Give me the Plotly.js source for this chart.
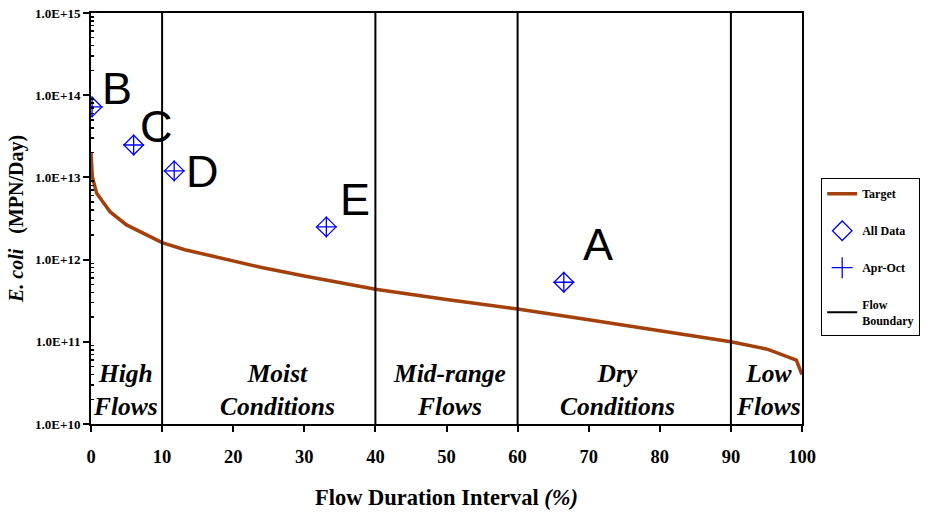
<!DOCTYPE html>
<html>
<head>
<meta charset="utf-8">
<script src="https://cdn.plot.ly/plotly-3.0.1.min.js"></script>
<style>html,body{margin:0;padding:0;background:#fff;}#chart{width:932px;height:517px;}</style>
</head>
<body>
<div id="chart"></div>
<script>
// Target load duration curve (flow duration interval %, E. coli MPN/Day)
const targetX = [0, 0.18, 0.8, 2.7, 5, 10, 13.2, 17.9, 24, 30, 35, 40, 50, 60, 70, 80, 90, 95.2, 99.2, 100];
const targetY = [2.0e13, 1.02e13, 6.4e12, 3.8e12, 2.64e12, 1.61e12, 1.32e12, 1.05e12, 8.0e11, 6.3e11, 5.25e11, 4.35e11, 3.27e11, 2.5e11, 1.85e11, 1.36e11, 1.0e11, 8.1e10, 6.0e10, 4.0e10];

// Sampled loads
const pointLabels = ["B", "C", "D", "E", "A"];
const pointX = [0.15, 6.0, 11.7, 33.1, 66.5];
const pointY = [7.2e13, 2.48e13, 1.2e13, 2.5e12, 5.3e11];

// Flow regime boundaries and zone names
const boundaries = [10, 40, 60, 90];
const zoneNames = ["High<br>Flows", "Moist<br>Conditions", "Mid-range<br>Flows", "Dry<br>Conditions", "Low<br>Flows"];
const zoneCenters = [4.8, 26.2, 50.4, 74, 95.3];

// Axis ticks
const yTickVals = [1e10, 1e11, 1e12, 1e13, 1e14, 1e15];
const yTickText = ["1.0E+10", "1.0E+11", "1.0E+12", "1.0E+13", "1.0E+14", "1.0E+15"];
const xTickVals = [0, 10, 20, 30, 40, 50, 60, 70, 80, 90, 100];
const minorMultipliers = [2, 3, 4, 5, 6, 7, 8, 9];

const yMinorVals = [];
yTickVals.slice(0, -1).forEach(d => minorMultipliers.forEach(m => yMinorVals.push(m * d)));

const yMin = yTickVals[0], yMax = yTickVals[yTickVals.length - 1];
const bx = [], by = [];
boundaries.forEach(b => { bx.push(b, b, null); by.push(yMin, yMax, null); });

const serif = "Liberation Serif, Times New Roman, serif";
const blue = "#0000FF";
const brown = "#A3400B";

const traces = [
  {x: targetX, y: targetY, type: "scatter", mode: "lines", name: "Target",
   line: {color: brown, width: 3.5}, legendgroup: "a"},
  {x: pointX, y: pointY, type: "scatter", mode: "markers", name: "All Data",
   marker: {symbol: "diamond-open", size: 15, color: blue, line: {color: blue, width: 1.3}}, legendgroup: "b"},
  {x: pointX, y: pointY, type: "scatter", mode: "markers", name: "Apr-Oct",
   marker: {symbol: "cross-thin-open", size: 15, color: blue, line: {color: blue, width: 1.3}}, legendgroup: "c"},
  {x: bx, y: by, type: "scatter", mode: "lines", name: "Flow<br>Boundary",
   line: {color: "black", width: 2}, legendgroup: "d"}
];

const labelShift = [[25, 18], [23, 18], [28, -1], [29, 27], [34, 38]];
const annotations = [];
pointLabels.forEach((t, i) => {
  annotations.push({x: pointX[i], y: Math.log10(pointY[i]), xref: "x", yref: "y",
    text: t, showarrow: false, xshift: labelShift[i][0], yshift: labelShift[i][1],
    font: {family: "Liberation Sans, Arial, sans-serif", size: 45, color: "black"}});
});
zoneNames.forEach((t, i) => {
  annotations.push({x: zoneCenters[i], y: 10.41, xref: "x", yref: "y",
    text: "<b><i>" + t + "</i></b>", showarrow: false,
    font: {family: serif, size: 25.5, color: "black"}});
});

const layout = {
  width: 932, height: 517,
  margin: {l: 91, r: 130, t: 13, b: 93},
  paper_bgcolor: "white", plot_bgcolor: "white",
  showlegend: true,
  legend: {x: 1.027, y: 0.598, xanchor: "left", yanchor: "top",
    bordercolor: "black", borderwidth: 1, bgcolor: "white",
    font: {family: serif, size: 12, color: "black", weight: "bold"},
    tracegroupgap: 18, itemwidth: 30},
  xaxis: {range: [0, 100], tickvals: xTickVals, ticks: "outside", ticklen: 6, tickwidth: 2,
    tickcolor: "black", showline: true, linewidth: 2, linecolor: "black", mirror: true,
    showgrid: false, zeroline: false, ticklabelstandoff: 9,
    tickfont: {family: serif, size: 18.5, color: "black", weight: "bold"},
    title: {text: "<b>Flow Duration Interval <i>(%)</i></b>", standoff: 23,
      font: {family: serif, size: 22.5, color: "black"}}},
  yaxis: {type: "log", range: [10, 15], tickvals: yTickVals, ticktext: yTickText,
    ticks: "outside", ticklen: 6, tickwidth: 2, tickcolor: "black",
    showline: true, linewidth: 2, linecolor: "black", mirror: true,
    showgrid: false, zeroline: false,
    minor: {ticks: "inside", ticklen: 3, tickwidth: 1.5, tickcolor: "black", tickvals: yMinorVals, showgrid: false},
    tickfont: {family: serif, size: 13, color: "black", weight: "bold"},
    title: {text: "<b><i>E. coli</i>&nbsp;&nbsp;&nbsp;(MPN/Day)</b>", standoff: 6,
      font: {family: serif, size: 20, color: "black"}}},
  annotations: annotations
};

Plotly.newPlot("chart", traces, layout, {displayModeBar: false, staticPlot: true});
</script>
</body>
</html>
